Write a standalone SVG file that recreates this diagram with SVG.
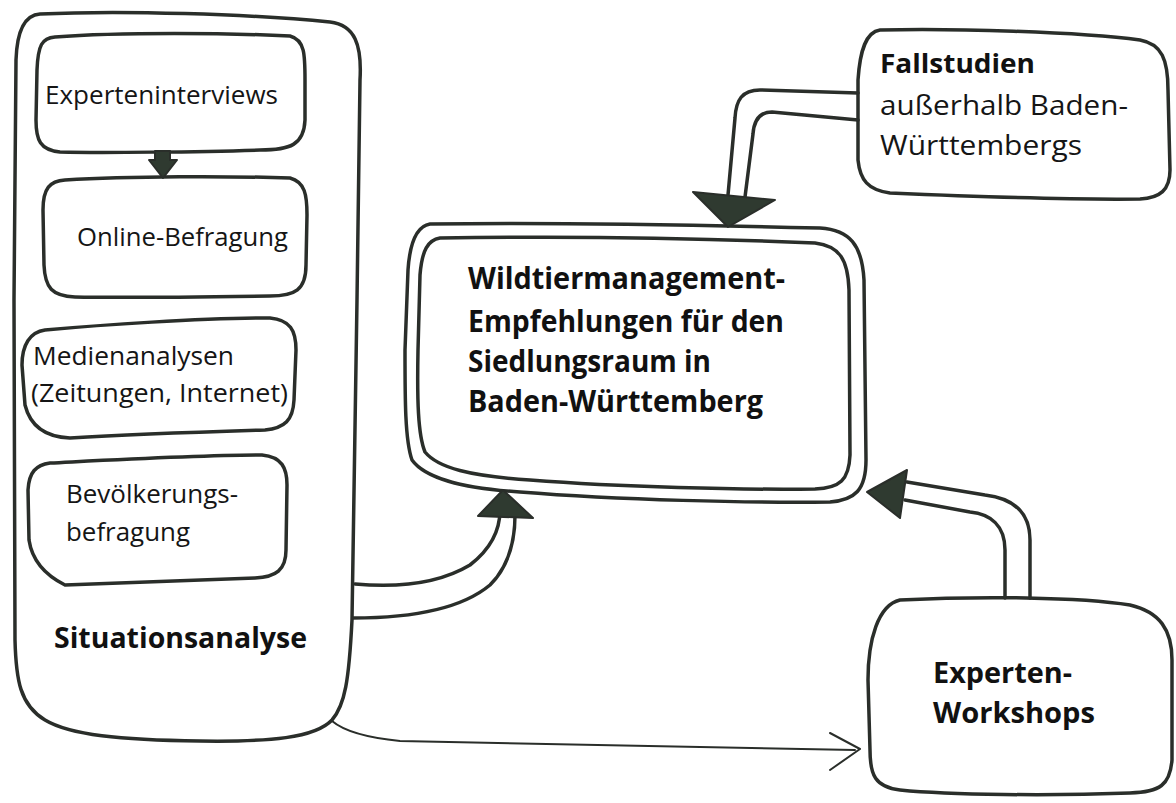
<svg xmlns="http://www.w3.org/2000/svg" width="1176" height="803" viewBox="0 0 1176 803">
<style>
.box{fill:none;stroke:#2a2e2a;stroke-width:3.5;stroke-linejoin:round;stroke-linecap:round}
.ln{fill:none;stroke:#2a2e2a;stroke-width:3.5;stroke-linejoin:round;stroke-linecap:round}
.thin{fill:none;stroke:#2a2e2a;stroke-width:2;stroke-linejoin:round;stroke-linecap:round}
.head{fill:#2f3a30;stroke:#2a2e2a;stroke-width:2;stroke-linejoin:round}
.t{font-family:"Open Sans","Liberation Sans",sans-serif;font-size:25px;fill:#151515}
.b{font-family:"Open Sans","Liberation Sans",sans-serif;font-size:29px;font-weight:bold;fill:#111}
</style>
<rect width="1176" height="803" fill="#ffffff"/>
<g id="situationsanalyse">
<path class="box" d="M40,14 C120,10 250,14 330,22 C355,25 362,45 360,80 L357,300 L352,620 C349,680 345,705 332,720 C315,738 270,742 200,741 C120,740 70,735 45,720 C20,705 16,680 15,640 L14,300 L16,60 C17,30 25,15 40,14 Z"/>
<text class="b" x="54" y="648" textLength="253" lengthAdjust="spacingAndGlyphs">Situationsanalyse</text>
</g>
<g id="experteninterviews">
<path class="box" d="M55,37 C120,32 230,33 290,36 C305,40 305,55 305,80 L305,120 C304,145 290,150 260,150 C200,152 100,153 60,152 C40,150 36,140 36,120 L37,70 C38,45 42,38 55,37 Z"/>
<text class="t" x="45" y="104" textLength="233" lengthAdjust="spacingAndGlyphs">Experteninterviews</text>
</g>
<g id="online-befragung">
<path class="box" d="M65,180 C130,176 230,176 290,178 C305,182 307,195 307,215 L306,265 C306,290 295,296 270,296 C200,297 120,298 75,297 C52,296 45,288 44,265 L43,210 C43,188 50,181 65,180 Z"/>
<text class="t" x="77" y="246" textLength="211" lengthAdjust="spacingAndGlyphs">Online-Befragung</text>
</g>
<g id="medienanalysen">
<path class="box" d="M45,330 C100,325 200,318 270,318 C290,320 296,330 296,350 L294,400 C293,420 285,428 265,430 C200,432 120,435 70,438 C45,437 30,425 25,405 L22,365 C22,345 30,332 45,330 Z"/>
<text class="t" x="33" y="365" textLength="201" lengthAdjust="spacingAndGlyphs">Medienanalysen</text>
<text class="t" x="31" y="402" textLength="257" lengthAdjust="spacingAndGlyphs">(Zeitungen, Internet)</text>
</g>
<g id="bevoelkerungsbefragung">
<path class="box" d="M50,463 C110,460 200,455 262,455 C282,457 287,468 287,485 L286,550 C286,570 276,577 255,578 C200,580 120,583 65,585 C45,575 32,560 29,540 L28,490 C29,472 36,465 50,463 Z"/>
<text class="t" x="66" y="503" textLength="172" lengthAdjust="spacingAndGlyphs">Bevölkerungs-</text>
<text class="t" x="66" y="541" textLength="124" lengthAdjust="spacingAndGlyphs">befragung</text>
</g>
<g id="empfehlungen">
<path class="box" d="M430,224 C550,222 700,225 820,228 C850,230 862,245 864,280 L866,460 C866,490 855,500 830,502 C750,503 620,500 520,492 C460,488 425,478 412,460 C405,440 405,400 405,350 L408,270 C410,240 418,226 430,224 Z"/>
<path class="box" d="M440,238 C560,236 700,238 815,243 C840,246 848,260 849,290 L850,455 C849,480 840,488 815,489 C740,490 620,487 530,480 C470,476 438,468 425,452 C418,435 417,400 418,350 L420,275 C422,250 428,240 440,238 Z"/>
<text class="b" x="468" y="289" textLength="317" lengthAdjust="spacingAndGlyphs" style="font-size:30px">Wildtiermanagement-</text>
<text class="b" x="468" y="332" textLength="316" lengthAdjust="spacingAndGlyphs" style="font-size:30px">Empfehlungen für den</text>
<text class="b" x="468" y="372" textLength="243" lengthAdjust="spacingAndGlyphs" style="font-size:30px">Siedlungsraum in</text>
<text class="b" x="468" y="412" textLength="295" lengthAdjust="spacingAndGlyphs" style="font-size:30px">Baden-Württemberg</text>
</g>
<g id="fallstudien">
<path class="box" d="M880,30 C950,28 1080,32 1140,40 C1162,44 1168,60 1168,90 L1170,170 C1170,190 1160,198 1140,199 C1060,200 960,196 890,193 C868,190 860,180 858,160 L858,80 C860,50 866,32 880,30 Z"/>
<text class="b" x="880" y="73" textLength="155" lengthAdjust="spacingAndGlyphs" style="font-size:27px">Fallstudien</text>
<text class="t" x="880" y="115" textLength="248" lengthAdjust="spacingAndGlyphs" style="font-size:27px">außerhalb Baden-</text>
<text class="t" x="880" y="155" textLength="202" lengthAdjust="spacingAndGlyphs" style="font-size:27px">Württembergs</text>
</g>
<g id="experten-workshops">
<path class="box" d="M900,600 C980,596 1080,597 1130,605 C1160,612 1172,630 1172,660 L1172,760 C1170,785 1160,792 1130,793 C1050,796 950,795 900,790 C875,787 870,775 870,750 L868,680 C868,640 878,605 900,600 Z"/>
<text class="b" x="933" y="683" textLength="139" lengthAdjust="spacingAndGlyphs">Experten-</text>
<text class="b" x="933" y="723" textLength="162" lengthAdjust="spacingAndGlyphs">Workshops</text>
</g>
<g id="connectors">
<polygon class="head" points="155,151 170,151 170,160 177,160 163,178 149,160 155,160"/>
<path class="ln" d="M858,93 L760,90 C742,90 736,100 735,118 L728,195"/>
<path class="ln" d="M858,120 L772,112 C760,112 754,120 753,134 L745,197"/>
<polygon class="head" points="693,192 775,200 728,227"/>
<path class="ln" d="M1030,598 L1030,540 C1030,510 1010,498 985,495 L907,482"/>
<path class="ln" d="M1005,598 L1005,550 C1005,525 990,514 970,512 L905,500"/>
<polygon class="head" points="867,492 907,470 900,518"/>
<path class="ln" d="M355,584 C400,588 440,583 470,565 C492,548 500,530 500,510"/>
<path class="ln" d="M353,618 C410,618 460,610 490,585 C510,565 515,540 515,515"/>
<polygon class="head" points="478,516 503,490 533,518"/>
<path class="thin" d="M332,721 C345,732 370,738 400,741 L855,750"/>
<path class="thin" d="M830,733 L860,749 L830,770"/>
</g>
</svg>
